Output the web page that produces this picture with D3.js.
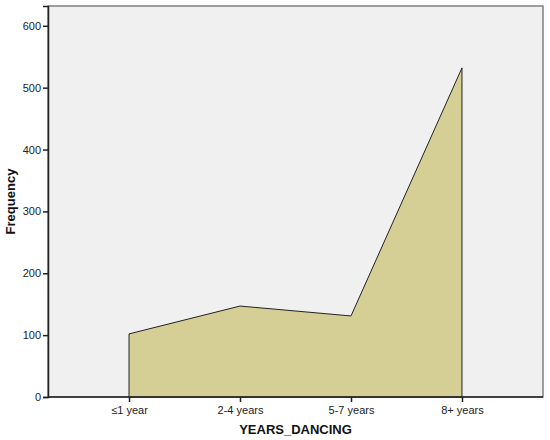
<!DOCTYPE html>
<html>
<head>
<meta charset="utf-8">
<script src="https://cdn.jsdelivr.net/npm/d3@7"></script>
<style>
  body { margin: 0; background: #fff; }
  svg { display: block; font-family: "Liberation Sans", Arial, sans-serif; }
</style>
</head>
<body>
<script>
// data
var categories = ['\u22641 year', '2-4 years', '5-7 years', '8+ years'];
var counts = [102, 147, 131, 532];
var yTicks = [0, 100, 200, 300, 400, 500, 600];

var W = 550, H = 440;
var m = { left: 48, right: 7, top: 6, bottom: 43 };

var svg = d3.select('body').append('svg').attr('width', W).attr('height', H);

var x = d3.scalePoint().domain(categories).range([m.left, W - m.right]).padding(0.73);
var y = d3.scaleLinear().domain([0, 632]).range([H - m.bottom, m.top]);

// plot background + frame
svg.append('rect')
  .attr('x', m.left).attr('y', m.top)
  .attr('width', W - m.left - m.right).attr('height', H - m.top - m.bottom)
  .attr('fill', '#f0f0f0').attr('stroke', '#808080').attr('stroke-width', 1.5);

var data = categories.map(function (c, i) { return { cat: c, v: counts[i] }; });

var area = d3.area()
  .x(function (d) { return x(d.cat); })
  .y0(y(0))
  .y1(function (d) { return y(d.v); });

svg.append('path')
  .datum(data)
  .attr('d', area)
  .attr('fill', '#d5cf96')
  .attr('stroke', '#222')
  .attr('stroke-width', 1);

// y axis
var yAxis = svg.append('g')
  .attr('transform', 'translate(' + m.left + ',0)')
  .call(d3.axisLeft(y).tickValues(yTicks).tickSize(5).tickPadding(2));
yAxis.select('.domain').attr('stroke', '#222').attr('stroke-width', 1.5);
yAxis.selectAll('.tick line').attr('stroke', '#222').attr('stroke-width', 1.5);
yAxis.selectAll('text').attr('font-size', 11).attr('fill', '#222').attr('font-family', '"Liberation Sans", Arial, sans-serif');

// x axis
var xAxis = svg.append('g')
  .attr('transform', 'translate(0,' + y(0) + ')')
  .call(d3.axisBottom(x).tickSize(5).tickPadding(4));
xAxis.select('.domain').attr('stroke', '#222').attr('stroke-width', 1.5).attr('d', 'M' + m.left + ',0H' + (W - m.right));
xAxis.selectAll('.tick line').attr('stroke', '#222').attr('stroke-width', 1.5);
xAxis.selectAll('text').attr('font-size', 11).attr('fill', '#222').attr('font-family', '"Liberation Sans", Arial, sans-serif');

// axis titles
svg.append('text')
  .attr('transform', 'translate(15,' + ((m.top + H - m.bottom) / 2) + ') rotate(-90)')
  .attr('text-anchor', 'middle')
  .attr('font-size', 13).attr('font-weight', 'bold').attr('fill', '#111')
  .text('Frequency');

svg.append('text')
  .attr('x', (m.left + W - m.right) / 2)
  .attr('y', 434)
  .attr('text-anchor', 'middle')
  .attr('font-size', 13).attr('font-weight', 'bold').attr('fill', '#111')
  .text('YEARS_DANCING');
</script>
</body>
</html>
